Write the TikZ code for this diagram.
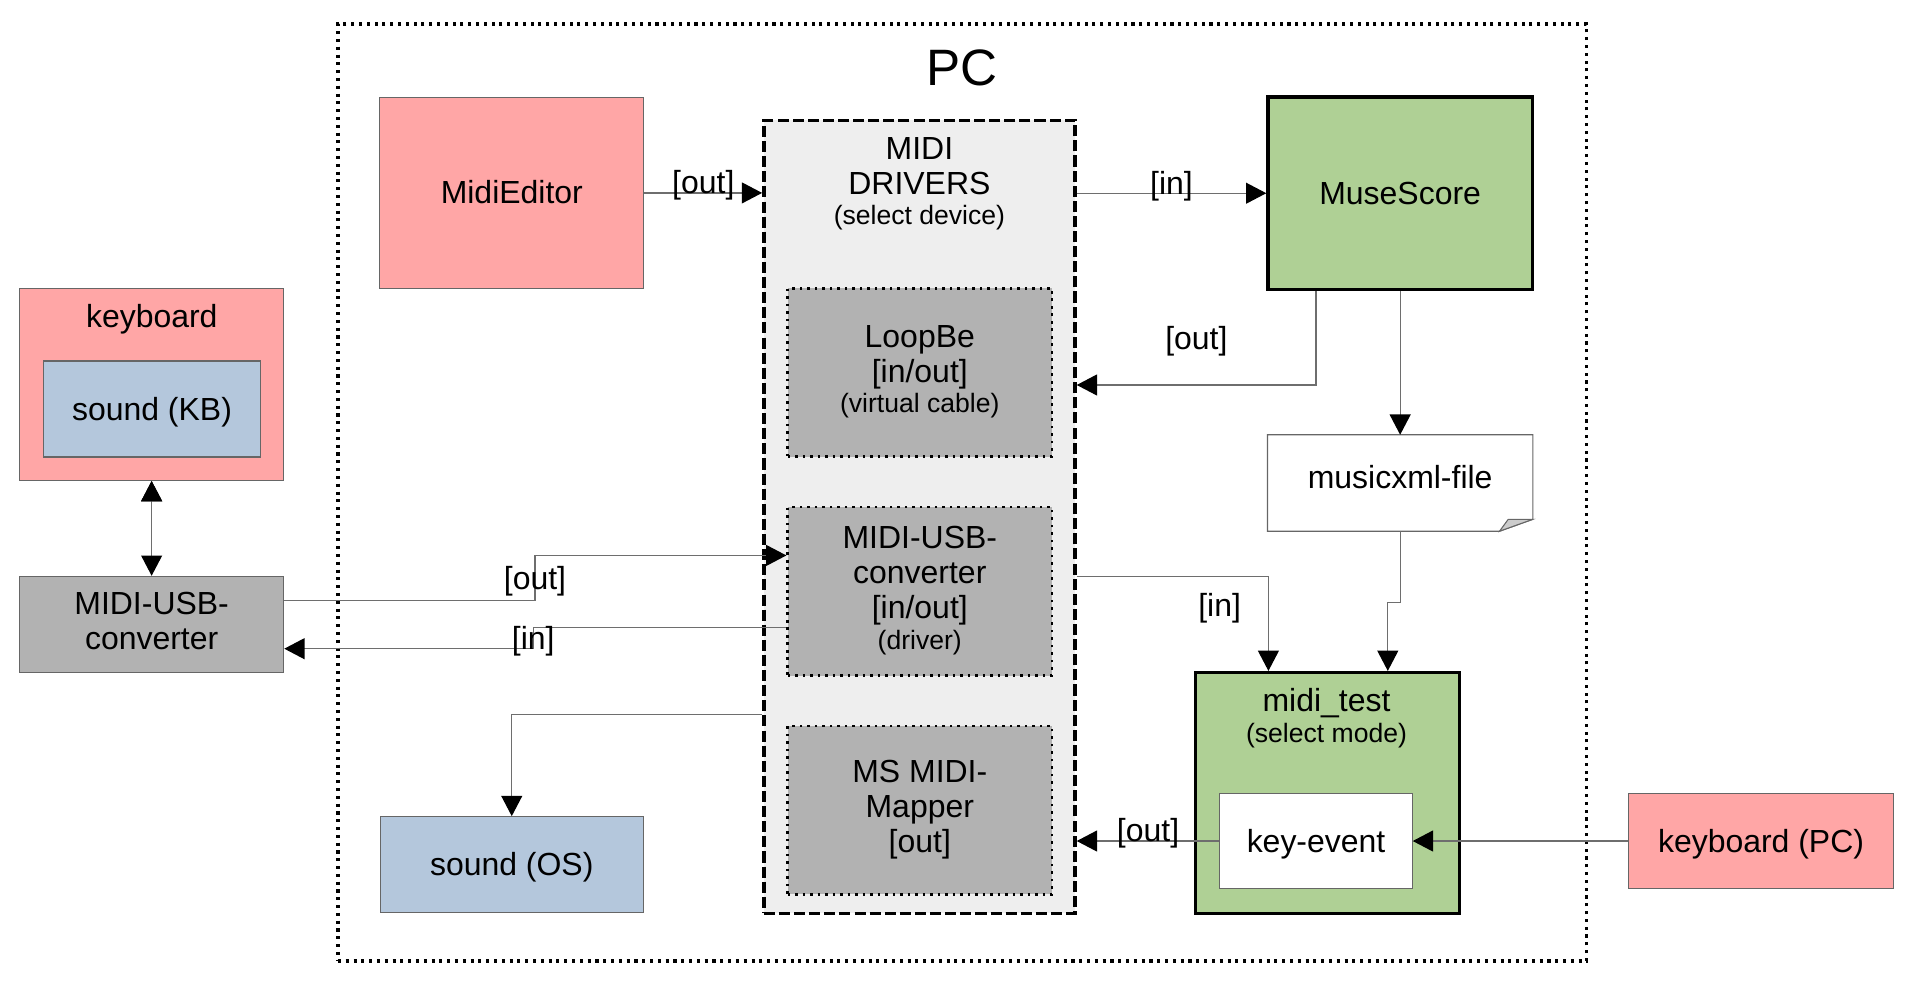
\documentclass[tikz,border=0pt]{standalone}
\usepackage{fontspec}
\setmainfont{Liberation Sans}
\usetikzlibrary{arrows.meta,positioning,calc}
\definecolor{boxpink}{HTML}{FFA6A6}
\definecolor{boxgreen}{HTML}{AFD095}
\definecolor{boxblue}{HTML}{B4C7DC}
\definecolor{boxgray}{HTML}{B2B2B2}
\definecolor{boxlight}{HTML}{EEEEEE}
\definecolor{edgegray}{HTML}{666666}
\definecolor{linegray}{HTML}{6E6E6E}
\definecolor{foldgray}{HTML}{CCCCCC}
\newcommand{\sm}[1]{{\fontsize{12.3}{14}\selectfont #1}}
\newcommand{\lostrut}{\rule[-0.212em]{0pt}{1.117em}}

\begin{document}
\begin{tikzpicture}[->,>={Triangle[length=3.3mm,width=3.4mm,color=black]},
    every node/.style={font=\fontsize{14.8}{16.2}\selectfont,align=center,
        execute at begin node=\lostrut,execute at end node=\lostrut},
    pink node/.style={rectangle,draw=edgegray,line width=0.5pt,fill=boxpink,minimum width=4.3cm},
    blue node/.style={rectangle,draw=edgegray,line width=0.5pt,fill=boxblue},
    white node/.style={rectangle,draw=edgegray,line width=0.5pt,fill=white},
    green node/.style={rectangle,draw=black,line width=1.6pt,fill=boxgreen,minimum width=4.3cm},
    gray node/.style={rectangle,draw=edgegray,line width=0.5pt,fill=boxgray,minimum width=4.3cm},
    driver node/.style={rectangle,draw=black,line width=1.2pt,dash pattern=on 0.42mm off 0.8mm,fill=boxgray,minimum width=4.3cm,minimum height=2.74cm},
    conn/.style={draw=linegray,line width=0.6pt}]

    \useasboundingbox (0,0) rectangle (31.2,-16.114);

    % PC frame
    \node[draw,line width=1.5pt,dash pattern=on 0.5mm off 0.77mm,minimum width=20.32cm,minimum height=15.25cm] (pc) at (15.66,-8.015) {};
    \node[font=\fontsize{23.7}{28}\selectfont] (pclabel) at (15.66,-1.1) {PC};

    \node[pink node,minimum height=3.12cm] (midiedit) at (8.33,-3.14) {MidiEditor};
    \node[green node,minimum height=3.13cm] (muse) at (22.788,-3.145) {MuseScore};

    % drivers
    \node[draw,line width=1.6pt,dash pattern=on 1.8mm off 0.66mm,fill=boxlight,minimum width=5.064cm,minimum height=12.906cm] (drivers) at (14.964,-8.413) {};
    \node (drvtxt) at (14.964,-3.0) {MIDI\\DRIVERS\\[-0.7mm]\sm{(select device)}};
    \node[driver node] (loopbe) at (14.97,-6.062) {LoopBe\\{[in/out]}\\[-0.7mm]\sm{(virtual cable)}};
    \node[driver node,below=0.78cm of loopbe] (usbin) {MIDI-USB-\\converter\\{[in/out]}\\[-0.7mm]\sm{(driver)}};
    \node[driver node,below=0.78cm of usbin] (mapper) {MS MIDI-\\Mapper\\{[out]}};

    % file
    \node[minimum width=4.304cm,minimum height=1.556cm,below=2.338cm of muse] (xml) {\raisebox{0.9mm}[0pt][0pt]{musicxml-file}};
    \draw[-,edgegray,line width=0.5pt] (xml.north west) -- (xml.north east) -- ([yshift=0.194cm]xml.south east)
        -- ([xshift=-0.542cm]xml.south east) -- (xml.south west) -- cycle;
    \filldraw[-,fill=foldgray,draw=edgegray,line width=0.5pt] ([xshift=-0.542cm]xml.south east)
        -- ([xshift=-0.4cm,yshift=0.194cm]xml.south east) -- ([yshift=0.194cm]xml.south east) -- cycle;

    % midi_test
    \node[green node,minimum height=3.918cm] (test) at (21.607,-12.907) {};
    \node (testtxt) at (21.59,-11.7) {midi\_test\\[-0.7mm]\sm{(select mode)}};
    \node[white node,minimum width=3.13cm,minimum height=1.552cm] (keyev) at (21.419,-13.688) {key-event};
    \node[pink node,minimum height=1.55cm,right=3.51cm of keyev] (kbpc) {keyboard (PC)};

    % left side
    \node[pink node,minimum height=3.12cm] (kb) at (2.468,-6.26) {};
    \node (kbtxt) at (2.47,-5.154) {keyboard};
    \node[blue node,minimum width=3.52cm,minimum height=1.562cm] (kbsound) at (2.474,-6.657) {sound (KB)};
    \node[gray node,minimum height=1.568cm] (usbout) at (2.468,-10.164) {MIDI-USB-\\converter};
    \node[blue node,minimum width=4.286cm,minimum height=1.562cm] (ossound) at (8.329,-14.073) {sound (OS)};

    \path[conn,every node/.style={font=\fontsize{14.8}{16.2}\selectfont,yshift=1.2mm}]
        (midiedit.east) edge node{[out]} (midiedit.east -| drivers.west)
        (muse.west -| drivers.east) edge node{[in]} (muse.west)
        (muse.south) edge (xml.north)
        (kbpc.west) edge (keyev.east)
        (keyev.west) edge node{[out]} (keyev.west -| drivers.east)
        (kb.south) edge[<->] (usbout.north)
    ;

    \draw[conn] ([xshift=-1.37cm]muse.south) |- node[pos=0.75,yshift=7.6mm]{[out]} ([yshift=2.147cm]drivers.east);
    \draw[conn] (xml.south) -- ++(0,-1.162) -| ([xshift=0.98cm]test.north);
    \draw[conn] ([yshift=-0.973cm]drivers.east) -| node[pos=0.65,left=3.2mm]{[in]} ([xshift=-0.963cm]test.north);
    \draw[conn] ([yshift=3.88mm]usbout.east) -- ++(4.08,0) |- node[pos=0.25]{[out]} ([yshift=5.84mm]usbin.west);
    \draw[conn] ([yshift=-5.84mm]usbin.west) -- ++(-4.12,0) |- node[pos=0.25]{[in]} ([yshift=-3.94mm]usbout.east);
    \draw[conn] ([yshift=-32.19mm]drivers.west) -| (ossound.north);
\end{tikzpicture}
\end{document}
